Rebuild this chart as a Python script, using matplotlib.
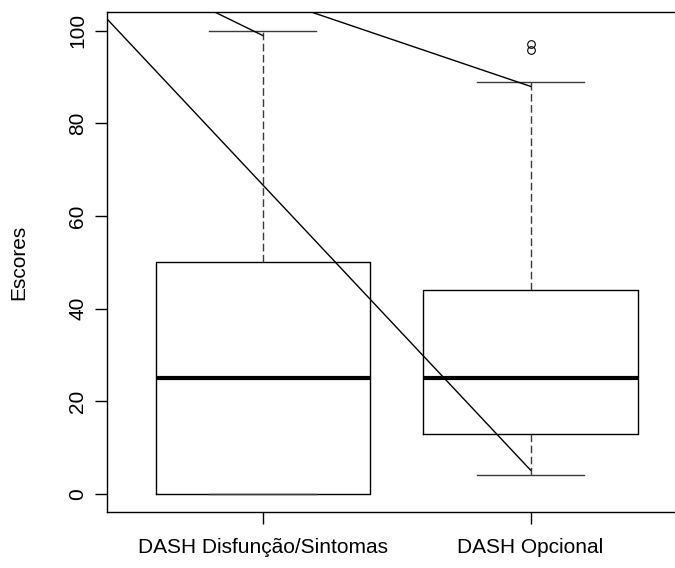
import matplotlib
matplotlib.use("Agg")
import matplotlib.pyplot as plt

plt.rcParams["font.family"] = ["Liberation Sans", "DejaVu Sans"]

# box statistics
groups = ["DASH Disfunção/Sintomas", "DASH Opcional"]
whisker_low = [0, 4]
quart_low = [0, 13]
medians = [25, 25]
quart_high = [50, 44]
whisker_high = [100, 89]
outliers = [[], [95.8, 97.2]]

y_ticks = [0, 20, 40, 60, 80, 100]

# the stray straight lines drawn over the boxes (data coords)
line_a_x = [0.42, 2.0]
line_a_y = [102.5, 5.1]
line_b_x = [0.823, 1.0]
line_b_y = [104.0, 99.0]
line_c_x = [1.184, 2.0]
line_c_y = [104.0, 88.0]

stats = []
for i, name in enumerate(groups):
    stats.append({
        "label": name,
        "whislo": whisker_low[i],
        "q1": quart_low[i],
        "med": medians[i],
        "q3": quart_high[i],
        "whishi": whisker_high[i],
        "fliers": outliers[i],
    })

fig = plt.figure(figsize=(6.75, 5.68), dpi=100)
# right edge of the frame falls outside the picture, as in the original
ax = fig.add_axes([107.3 / 675, 1 - 512.3 / 568, (686 - 107.3) / 675, 500 / 568])

ax.bxp(
    stats,
    positions=[1, 2],
    widths=0.8,
    capwidths=0.4,
    boxprops=dict(color="black", linewidth=1.0),
    whiskerprops=dict(color="#3a3a3a", linewidth=1.0, linestyle=(0, (5.5, 2.5))),
    capprops=dict(color="#3a3a3a", linewidth=1.0),
    medianprops=dict(color="black", linewidth=3.0, solid_capstyle="butt"),
    flierprops=dict(marker="o", markerfacecolor="none", markeredgecolor="black",
                    markersize=5.5, markeredgewidth=0.8, linestyle="none"),
)

for xs, ys in [(line_a_x, line_a_y), (line_b_x, line_b_y), (line_c_x, line_c_y)]:
    ax.plot(xs, ys, color="black", linewidth=1.0)

ax.set_xlim(0.42, 2.58)
ax.set_ylim(-4, 104)

ax.set_xticks([1, 2])
ax.set_xticklabels(groups, fontsize=15)
ax.set_yticks(y_ticks)
ax.set_yticklabels([str(t) for t in y_ticks], fontsize=15, rotation=90, va="center")
ax.tick_params(axis="x", length=8.6, width=1.0, pad=10)
ax.tick_params(axis="y", length=8.6, width=1.0, pad=6)

ax.set_ylabel("Escores", fontsize=15)
ax.yaxis.set_label_coords(-0.137, 0.5)

for sp in ax.spines.values():
    sp.set_linewidth(1.0)
    sp.set_color("black")

fig.savefig("out.png", dpi=100)
plt.close(fig)
